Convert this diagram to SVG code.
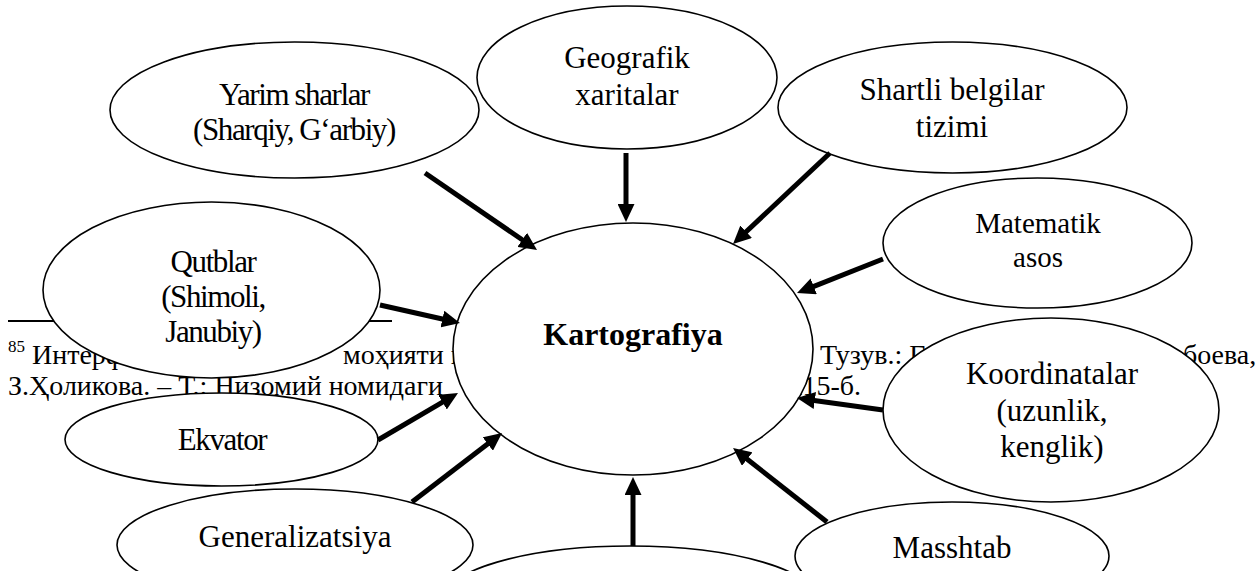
<svg xmlns="http://www.w3.org/2000/svg" width="1257" height="571" viewBox="0 0 1257 571">
<defs>
<style>
.node ellipse{fill:#fff;stroke:#000;stroke-width:1.6}
text{font-family:'Liberation Serif','Times New Roman','DejaVu Serif',serif;fill:#000}
.lbl{font-size:31px;text-anchor:middle}
.cond{letter-spacing:-1.4px}
.sm{font-size:29px}
.bold{font-weight:bold;font-size:32px}
.conn path{stroke:#000;stroke-width:5;fill:none;marker-end:url(#ah)}
.fn{font-size:28px}
.sup{font-size:17px}
</style>
<marker id="ah" markerUnits="userSpaceOnUse" markerWidth="18" markerHeight="17" refX="8" refY="8.5" orient="auto">
<path d="M0,0 L18,8.5 L0,17 z" fill="#000"/>
</marker>
</defs>
<rect width="1257" height="571" fill="#fff"/>
<g id="footnote">
<line x1="8" y1="321" x2="392" y2="321" stroke="#000" stroke-width="2"/>
<text class="sup" x="8" y="352">85</text>
<text class="fn" x="32" y="364">Интерфаол</text>
<text class="fn" x="343" y="364">моҳияти ва</text>
<text class="fn" x="820" y="364">Тузув.: Г.</text>
<text class="fn" x="1183" y="364">боева,</text>
<text class="fn" x="8" y="395">З.Ҳоликова. – Т.: Низомий номидаги</text>
<text class="fn" x="861" y="395" text-anchor="end">115-б.</text>
</g>
<g id="n-geografik" class="node">
<ellipse cx="627" cy="77.5" rx="150" ry="71.5"/>
<text class="lbl" x="627" y="68">Geografik</text>
<text class="lbl" x="627" y="105">xaritalar</text>
</g>
<g id="n-yarim" class="node">
<ellipse cx="294.5" cy="110" rx="184.5" ry="68"/>
<text class="lbl cond" x="294" y="105">Yarim sharlar</text>
<text class="lbl cond" x="294" y="140">(Sharqiy, G‘arbiy)</text>
</g>
<g id="n-shartli" class="node">
<ellipse cx="952.5" cy="107.5" rx="174.5" ry="65.5"/>
<text class="lbl" x="952" y="100">Shartli belgilar</text>
<text class="lbl" x="952" y="137">tizimi</text>
</g>
<g id="n-matematik" class="node">
<ellipse cx="1037.5" cy="243" rx="154.5" ry="65"/>
<text class="lbl sm" x="1038" y="233">Matematik</text>
<text class="lbl sm" x="1038" y="267">asos</text>
</g>
<g id="n-qutblar" class="node">
<ellipse cx="211.5" cy="290" rx="168.5" ry="88"/>
<text class="lbl cond" x="213" y="272">Qutblar</text>
<text class="lbl cond" x="213" y="307">(Shimoli,</text>
<text class="lbl cond" x="213" y="342">Janubiy)</text>
</g>
<g id="n-koordinatalar" class="node">
<ellipse cx="1051" cy="410" rx="168" ry="92"/>
<text class="lbl" x="1052" y="384">Koordinatalar</text>
<text class="lbl" x="1052" y="421">(uzunlik,</text>
<text class="lbl" x="1052" y="457">kenglik)</text>
</g>
<g id="n-ekvator" class="node">
<ellipse cx="221.5" cy="439.5" rx="156.5" ry="46.5"/>
<text class="lbl cond" x="222" y="450">Ekvator</text>
</g>
<g id="n-generalizatsiya" class="node">
<ellipse cx="295" cy="545" rx="178" ry="56"/>
<text class="lbl" x="295" y="547">Generalizatsiya</text>
</g>
<g id="n-masshtab" class="node">
<ellipse cx="952" cy="556" rx="157" ry="54"/>
<text class="lbl" x="952" y="558">Masshtab</text>
</g>
<g id="n-bottom" class="node">
<ellipse cx="630" cy="601" rx="188" ry="55"/>
</g>
<g id="n-kartografiya" class="node">
<ellipse cx="633" cy="349" rx="180" ry="126"/>
<text class="lbl bold" x="633" y="345">Kartografiya</text>
</g>
<g id="connectors" class="conn">
<path d="M626,153 L626,212"/>
<path d="M425,173 L528.8,244.3"/>
<path d="M830,153 L740.3,237.2"/>
<path d="M883,259 L806.3,289.3"/>
<path d="M883,410 L806.9,399.4"/>
<path d="M827,522 L740.9,454.2"/>
<path d="M633,546 L633,487"/>
<path d="M412,502 L494.1,439.1"/>
<path d="M378,440 L449.4,398.1"/>
<path d="M380,305 L450.2,320.8"/>
</g>
</svg>
